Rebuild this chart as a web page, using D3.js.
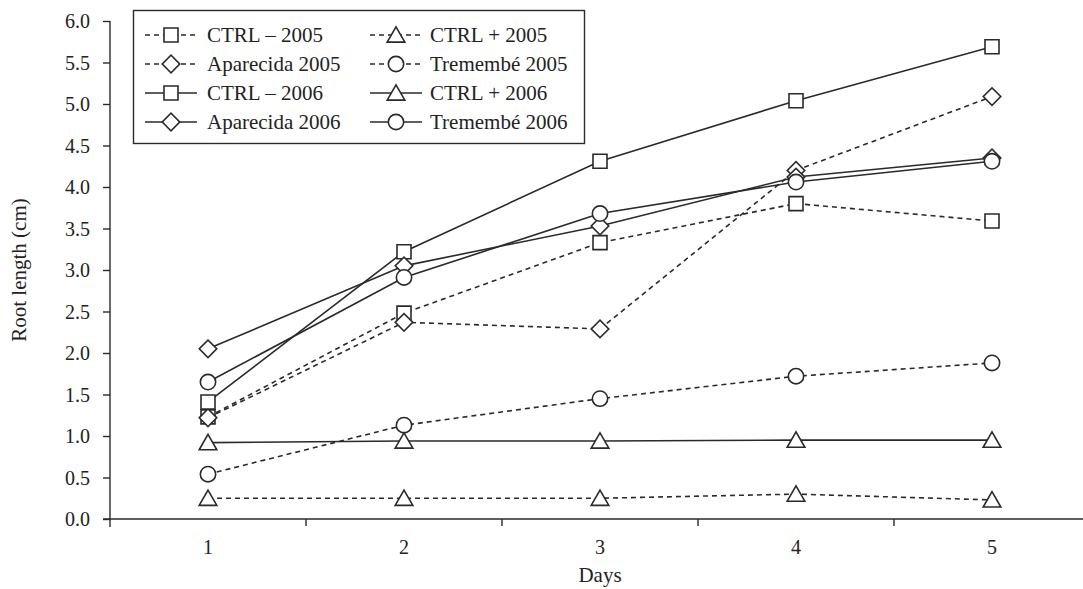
<!DOCTYPE html>
<html><head><meta charset="utf-8">
<script src="https://cdn.jsdelivr.net/npm/d3@7"></script>
<style>body{margin:0;background:#fff}text{font-family:"Liberation Serif","DejaVu Serif",serif;fill:#222}</style>
</head><body><svg id="c" width="1083" height="589"></svg>
<script>
const days = [1, 2, 3, 4, 5];
const yTicks = [0, 0.5, 1, 1.5, 2, 2.5, 3, 3.5, 4, 4.5, 5, 5.5, 6];
const seriesNames = ["CTRL \u2013 2005", "CTRL + 2005", "Aparecida 2005", "Tremembé 2005", "CTRL \u2013 2006", "CTRL + 2006", "Aparecida 2006", "Tremembé 2006"];
const ctrlMinus2005 = [1.23, 2.48, 3.33, 3.80, 3.59];
const ctrlPlus2005 = [0.25, 0.25, 0.25, 0.30, 0.23];
const aparecida2005 = [1.22, 2.37, 2.29, 4.20, 5.09];
const tremembe2005 = [0.54, 1.13, 1.45, 1.72, 1.88];
const ctrlMinus2006 = [1.41, 3.22, 4.31, 5.04, 5.69];
const ctrlPlus2006 = [0.92, 0.94, 0.94, 0.95, 0.95];
const aparecida2006 = [2.05, 3.05, 3.53, 4.12, 4.35];
const tremembe2006 = [1.65, 2.91, 3.68, 4.06, 4.31];
const seriesValues = [ctrlMinus2005, ctrlPlus2005, aparecida2005, tremembe2005, ctrlMinus2006, ctrlPlus2006, aparecida2006, tremembe2006];
const markers = ["square", "triangle", "diamond", "circle", "square", "triangle", "diamond", "circle"];
const dashed = [true, true, true, true, false, false, false, false];

const svg = d3.select("#c");
const col = "#2a2a2a";
const x = d3.scaleBand().domain(days).range([110, 1090]);
const y = d3.scaleLinear().domain([0, 6]).range([519, 21]);
const cx = d => x(d) + x.bandwidth() / 2;

// y axis
const ya = svg.append("g").attr("transform", "translate(110,0)")
  .call(d3.axisLeft(y).tickValues(yTicks).tickFormat(d3.format(".1f")).tickSize(7).tickSizeOuter(0));
ya.select(".domain").remove();
ya.append("line").attr("x1", 0).attr("x2", 0).attr("y1", 21).attr("y2", 527).attr("stroke", col).attr("stroke-width", 1.4);
ya.selectAll(".tick line").attr("stroke", col).attr("stroke-width", 1.4);
ya.selectAll(".tick text").attr("font-size", 20).attr("x", -20).attr("dy", "0.34em").style("font-family", "Liberation Serif").attr("fill", "#222");

// x axis
const xa = svg.append("g").attr("transform", "translate(0,519)");
xa.append("line").attr("x1", 103).attr("x2", 1083).attr("stroke", col).attr("stroke-width", 1.4);
const edges = days.slice(1).map(d => x(d));
xa.selectAll(".xt").data(edges).join("line").attr("x1", d => d).attr("x2", d => d).attr("y1", 0).attr("y2", 7).attr("stroke", col).attr("stroke-width", 1.4);
xa.selectAll(".xl").data(days).join("text").attr("x", d => cx(d)).attr("y", 35).attr("text-anchor", "middle").attr("font-size", 20).text(d => d);

svg.append("text").attr("x", 600).attr("y", 582).attr("text-anchor", "middle").attr("font-size", 21).text("Days");
svg.append("text").attr("transform", "translate(26,270) rotate(-90)").attr("text-anchor", "middle").attr("font-size", 21).text("Root length (cm)");

const symTypes = {square: d3.symbolSquare, triangle: d3.symbolTriangle, diamond: d3.symbolDiamond, circle: d3.symbolCircle};
const symSizes = {square: 196, triangle: 135, diamond: 120, circle: 185};
function drawMarker(g, type, px, py) {
  if (type === "diamond") {
    g.append("rect").attr("x", -6.2).attr("y", -6.2).attr("width", 12.4).attr("height", 12.4)
      .attr("transform", `translate(${px},${py}) rotate(45)`).attr("fill", "#fff").attr("stroke", col).attr("stroke-width", 1.6);
  } else {
    g.append("path").attr("d", d3.symbol(symTypes[type], symSizes[type])()).attr("transform", `translate(${px},${py + (type === "triangle" ? 2 : 0)})`)
      .attr("fill", "#fff").attr("stroke", col).attr("stroke-width", 1.6);
  }
}

const line = d3.line().x((v, i) => cx(days[i])).y(v => y(v));
const plot = svg.append("g");
seriesValues.forEach((vals, s) => {
  plot.append("path").attr("d", line(vals)).attr("fill", "none").attr("stroke", col).attr("stroke-width", 1.6)
    .attr("stroke-dasharray", dashed[s] ? "5,4" : null);
});
seriesValues.forEach((vals, s) => {
  vals.forEach((v, i) => drawMarker(plot, markers[s], cx(days[i]), y(v)));
});

// legend
const lg = svg.append("g");
lg.append("rect").attr("x", 133.5).attr("y", 10.5).attr("width", 451).attr("height", 133).attr("fill", "#fff").attr("stroke", col).attr("stroke-width", 1.4);
seriesNames.forEach((name, s) => {
  const colIdx = s % 2, row = Math.floor(s / 2);
  const lx = colIdx === 0 ? 145 : 370;
  const ly = 35 + row * 29;
  lg.append("line").attr("x1", lx).attr("x2", lx + 52).attr("y1", ly).attr("y2", ly).attr("stroke", col).attr("stroke-width", 1.6)
    .attr("stroke-dasharray", dashed[s] ? "5,4" : null);
  drawMarker(lg, markers[s], lx + 26, ly);
  lg.append("text").attr("x", colIdx === 0 ? 207 : 430).attr("y", ly + 7).attr("font-size", 21).text(name);
});
</script></body></html>
